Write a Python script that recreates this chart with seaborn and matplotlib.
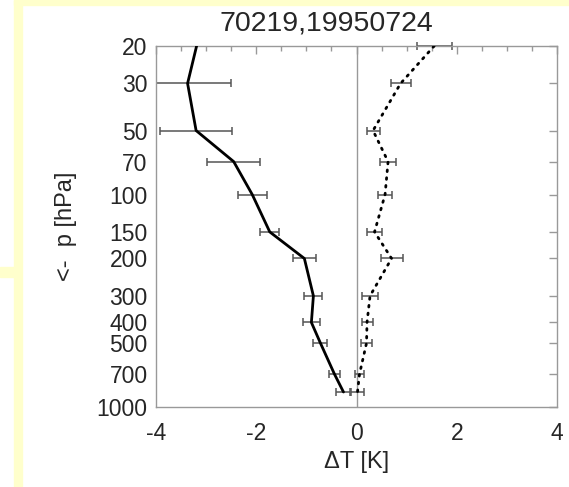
import numpy as np
import pandas as pd
import matplotlib
matplotlib.use("Agg")
import matplotlib.pyplot as plt
from matplotlib.patches import Rectangle
from matplotlib.ticker import FixedLocator, MultipleLocator, NullLocator, FixedFormatter
import seaborn as sns

# ---- data ----
levels = [20, 30, 50, 70, 100, 150, 200, 300, 400, 500, 700, 850]
solid_dT = [-3.19, -3.37, -3.20, -2.45, -2.08, -1.73, -1.04, -0.86, -0.90, -0.72, -0.44, -0.26]
solid_err = [np.nan, 0.86, 0.72, 0.53, 0.29, 0.19, 0.23, 0.18, 0.17, 0.14, 0.11, 0.14]
dotted_dT = [1.55, 0.88, 0.33, 0.63, 0.57, 0.36, 0.70, 0.27, 0.21, 0.20, 0.06, 0.02]
dotted_err = [0.35, 0.20, 0.13, 0.16, 0.14, 0.15, 0.22, 0.16, 0.11, 0.11, 0.08, 0.13]
ytick_levels = [20, 30, 50, 70, 100, 150, 200, 300, 400, 500, 700, 1000]
xticks = [-4, -2, 0, 2, 4]
title = "70219,19950724"

sns.set_style("white")
plt.rcParams['font.family'] = ['Liberation Sans', 'DejaVu Sans']
plt.rcParams['axes.unicode_minus'] = False

df_s = pd.DataFrame({"p": levels, "dT": solid_dT, "err": solid_err})
df_d = pd.DataFrame({"p": levels, "dT": dotted_dT, "err": dotted_err})

fig = plt.figure(figsize=(5.69, 4.87), dpi=100)
fig.patch.set_facecolor("white")

# decorative yellow frame pieces
yel = "#FFFFCC"
fig.patches.append(Rectangle((14/569, 1-5/487), 1, 5/487, transform=fig.transFigure, color=yel, zorder=0))
fig.patches.append(Rectangle((14/569, 0), 8/569, 1, transform=fig.transFigure, color=yel, zorder=0))
fig.patches.append(Rectangle((0, 1-277/487), 14/569, 10/487, transform=fig.transFigure, color=yel, zorder=0))

ax = fig.add_axes([156/569, 1-407/487, 401/569, 361/487])
ax.set_facecolor("white")

ax.axvline(0, color="#999999", lw=1, zorder=1)

sns.lineplot(data=df_s, x="dT", y="p", sort=False, estimator=None, color="black",
             lw=2, ax=ax, zorder=3)
sns.lineplot(data=df_d, x="dT", y="p", sort=False, estimator=None, color="black",
             lw=2, linestyle=(0, (0.6, 2.2)), dash_capstyle="round", ax=ax, zorder=3)

ax.errorbar(df_s["dT"], df_s["p"], xerr=df_s["err"], fmt="none", ecolor="#555555",
            elinewidth=1.1, capsize=2.7, capthick=1.1, zorder=2)
eb = ax.errorbar(df_d["dT"], df_d["p"], xerr=df_d["err"], fmt="none", ecolor="#555555",
                 elinewidth=1.1, capsize=2.7, capthick=1.1, zorder=2)
for art in eb.lines[1] + eb.lines[2]:
    art.set_clip_on(False)

ax.set_yscale("log")
ax.set_ylim(1000, 20)
ax.set_xlim(-4, 4)
ax.yaxis.set_major_locator(FixedLocator(ytick_levels))
ax.yaxis.set_major_formatter(FixedFormatter([str(v) for v in ytick_levels]))
ax.yaxis.set_minor_locator(NullLocator())
ax.xaxis.set_major_locator(FixedLocator(xticks))
ax.xaxis.set_minor_locator(MultipleLocator(0.5))

for s in ax.spines.values():
    s.set_color("#999999")
    s.set_linewidth(1)
ax.tick_params(which="both", direction="in", top=True, right=True, color="#999999", width=1)
ax.tick_params(which="major", length=6)
ax.tick_params(which="minor", length=3.5)
ax.tick_params(axis="x", which="major", labelsize=16.5, pad=11)
ax.tick_params(axis="y", which="major", labelsize=16.5, pad=6)

ax.set_xlabel("ΔT [K]", fontsize=17, labelpad=4)
ax.set_ylabel("<-  p [hPa]", fontsize=17, labelpad=14)

fig.text(326/569, 1-24/487, title, ha="center", va="center", fontsize=20.5)

fig.savefig("out.png", dpi=100)
